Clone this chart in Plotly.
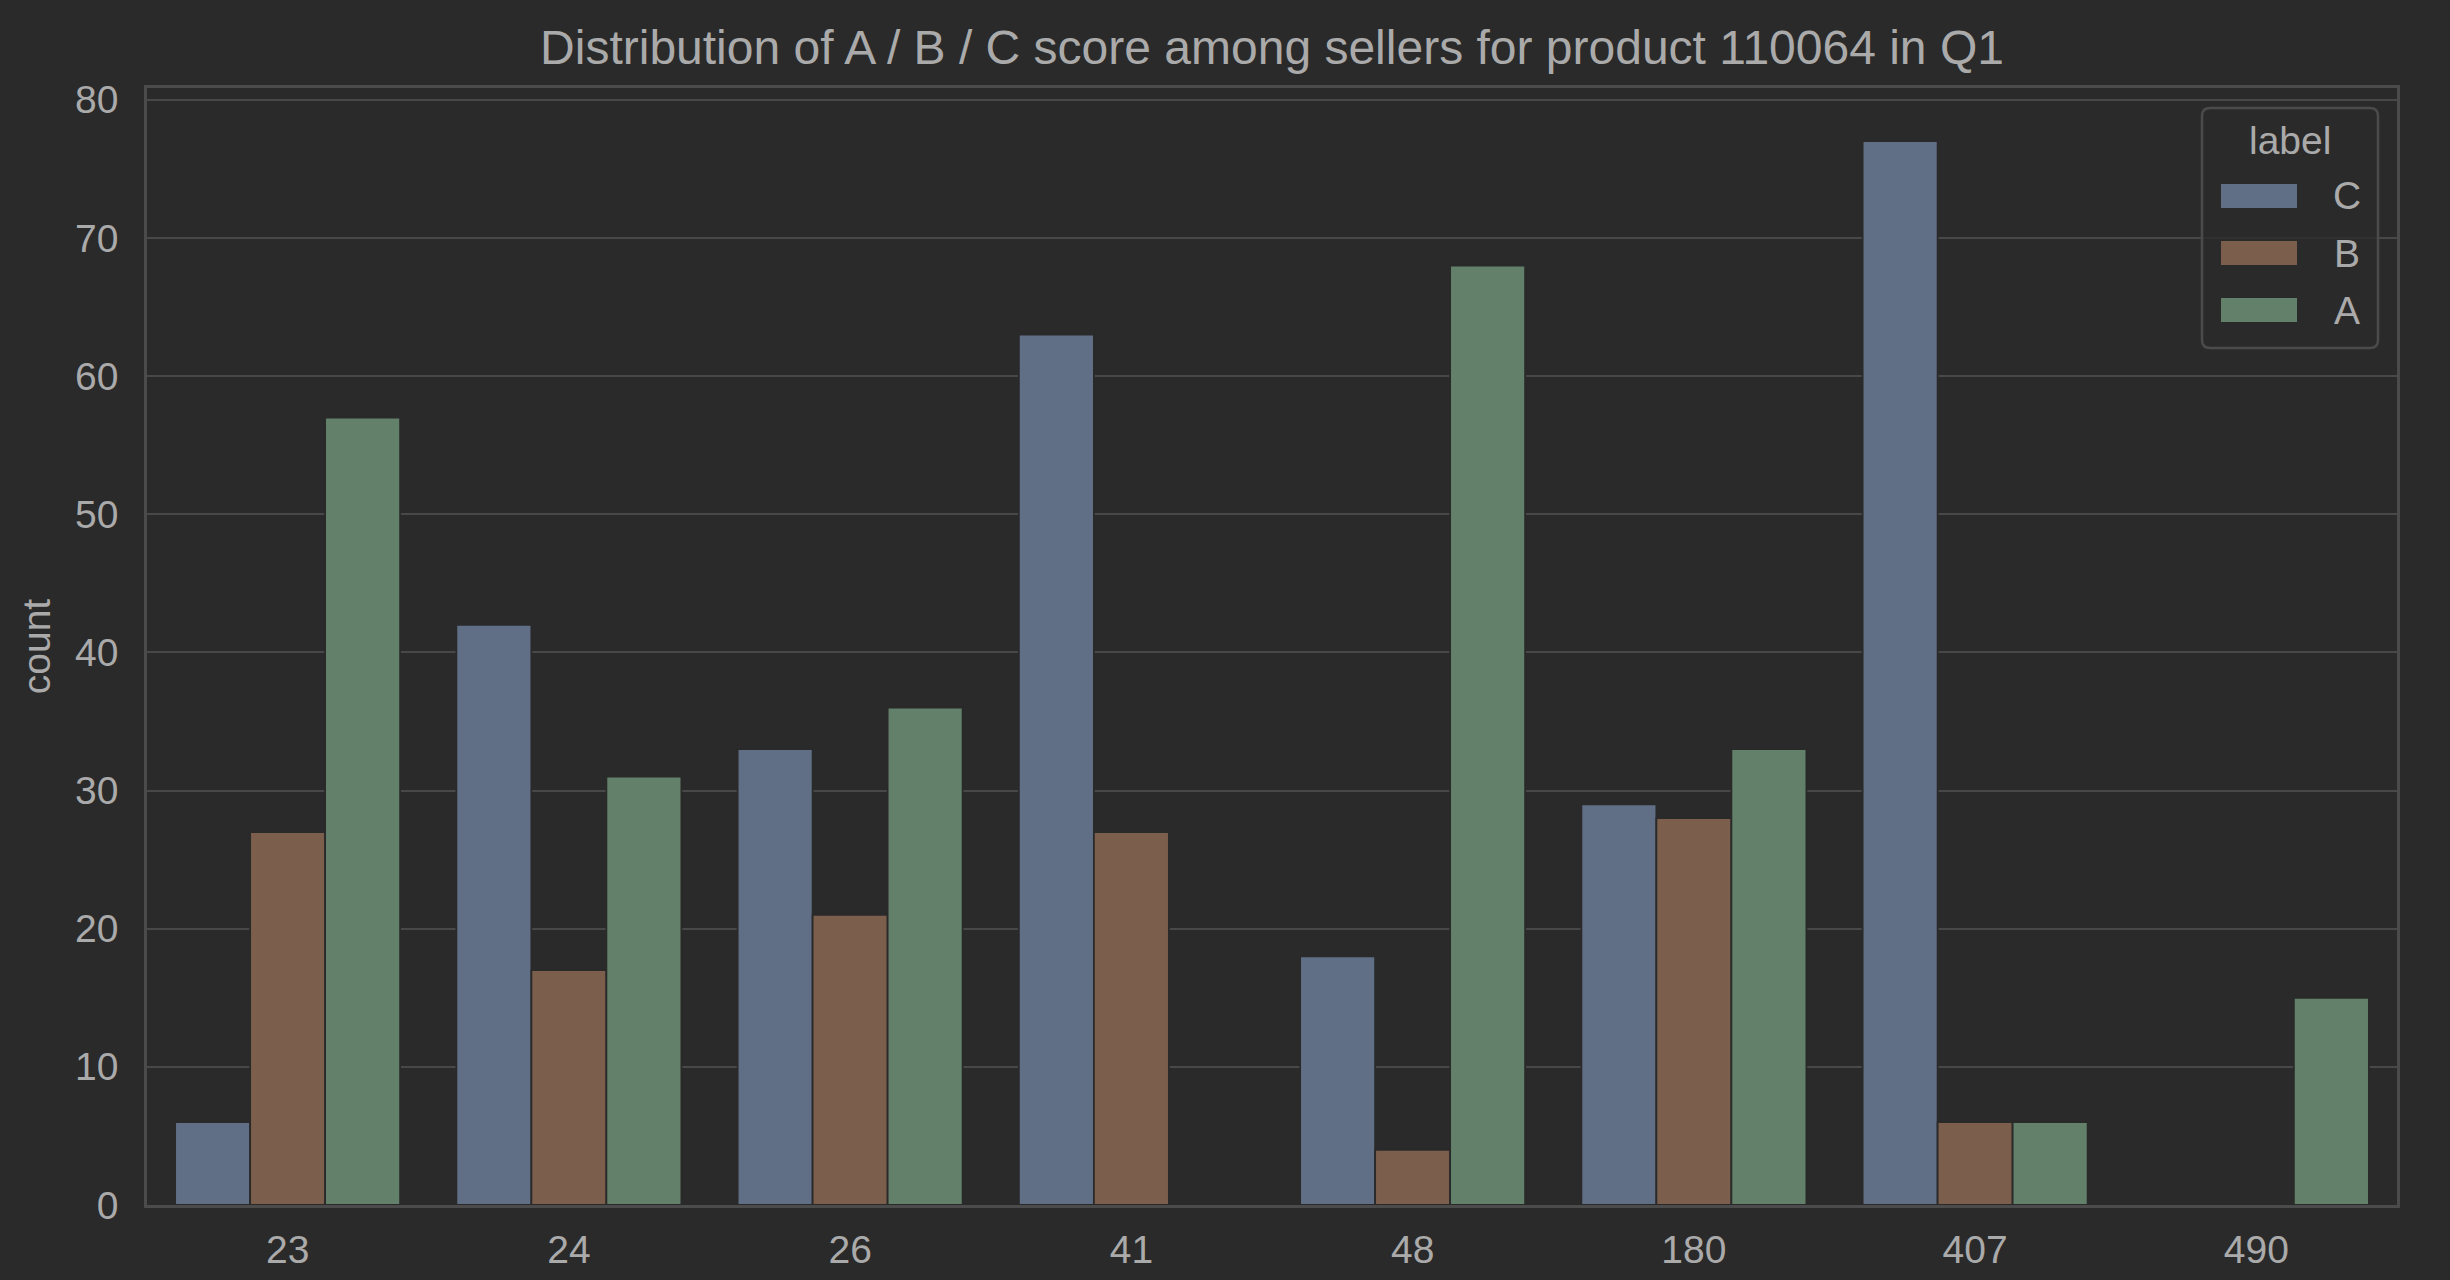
import plotly.graph_objects as go

# ---- data ----
sellers = ["23", "24", "26", "41", "48", "180", "407", "490"]
labels = ["C", "B", "A"]
count_C = [6, 42, 33, 63, 18, 29, 77, 0]
count_B = [27, 17, 21, 27, 4, 28, 6, 0]
count_A = [57, 31, 36, 0, 68, 33, 6, 15]
y_ticks = [0, 10, 20, 30, 40, 50, 60, 70, 80]

series = {"C": count_C, "B": count_B, "A": count_A}
colors = {"C": "#606f85", "B": "#7b5e4c", "A": "#63816a"}

BG = "#2a2a2a"
TXT = "#aaaaaa"
GRID = "#484848"
SPINE = "#4b4b4b"
FONT = "Liberation Sans, Arial, sans-serif"
FS = 39

W, H = 2450, 1280
L, R, T, B = 147, 2397, 88, 1205

fig = go.Figure()
for lab in labels:
    fig.add_trace(go.Bar(
        x=sellers, y=series[lab], name=lab,
        marker=dict(color=colors[lab], line=dict(color=BG, width=1.8)),
        showlegend=False,
    ))

def px_x(p):
    return (p - L) / (R - L)

def px_y(p):
    return (B - p) / (B - T)

# custom legend (rounded box like the reference)
bx0, bx1, by0, by1, rad = 2202, 2378, 108, 348, 8
X0, X1 = px_x(bx0), px_x(bx1)
Y0, Y1 = px_y(by1), px_y(by0)
rx, ry = rad / (R - L), rad / (B - T)
path = (f"M {X0+rx},{Y0} L {X1-rx},{Y0} Q {X1},{Y0} {X1},{Y0+ry} "
        f"L {X1},{Y1-ry} Q {X1},{Y1} {X1-rx},{Y1} L {X0+rx},{Y1} "
        f"Q {X0},{Y1} {X0},{Y1-ry} L {X0},{Y0+ry} Q {X0},{Y0} {X0+rx},{Y0} Z")
shapes = [dict(type="path", path=path, xref="paper", yref="paper",
               line=dict(color=SPINE, width=2.5), fillcolor="rgba(42,42,42,0.8)",
               layer="above")]
annotations = [dict(text="label", x=px_x(2290), y=px_y(140), xref="paper", yref="paper",
                    showarrow=False, xanchor="center", yanchor="middle",
                    font=dict(size=FS, color=TXT, family=FONT))]
item_y = [196, 253, 310]
for lab, cy in zip(labels, item_y):
    shapes.append(dict(type="rect", xref="paper", yref="paper",
                       x0=px_x(2221), x1=px_x(2297), y0=px_y(cy + 12), y1=px_y(cy - 12),
                       fillcolor=colors[lab], line=dict(width=0), layer="above"))
    annotations.append(dict(text=lab, x=px_x(2347), y=px_y(cy), xref="paper", yref="paper",
                            showarrow=False, xanchor="center", yanchor="middle",
                            font=dict(size=FS, color=TXT, family=FONT)))

fig.update_layout(
    width=W, height=H,
    margin=dict(l=L, r=W - R, t=T, b=H - B, pad=0, autoexpand=False),
    paper_bgcolor=BG, plot_bgcolor=BG,
    font=dict(family=FONT, color=TXT, size=FS),
    title=dict(text="Distribution of A / B / C score among sellers for product 110064 in Q1",
               x=(L + R) / 2 / W, xanchor="center", y=1 - 47 / H, yanchor="middle",
               font=dict(size=48, color=TXT, family=FONT)),
    barmode="group", bargap=0.2, bargroupgap=0,
    shapes=shapes, annotations=annotations,
    xaxis=dict(type="category", range=[-0.5, 7.5], showgrid=False, automargin=False,
               showline=True, linecolor=SPINE, linewidth=2.5, mirror=True,
               ticks="", ticklabelstandoff=8, tickfont=dict(size=FS, color=TXT),
               zeroline=False),
    yaxis=dict(range=[0, 80.85], tickvals=y_ticks, showgrid=True, gridcolor=GRID,
               automargin=False,
               gridwidth=2, showline=True, linecolor=SPINE, linewidth=2.5, mirror=True,
               ticks="", ticklabelstandoff=18, tickfont=dict(size=FS, color=TXT),
               zeroline=False,
               title=dict(text="count", font=dict(size=FS, color=TXT), standoff=13)),
)

fig.write_html("out.html")
